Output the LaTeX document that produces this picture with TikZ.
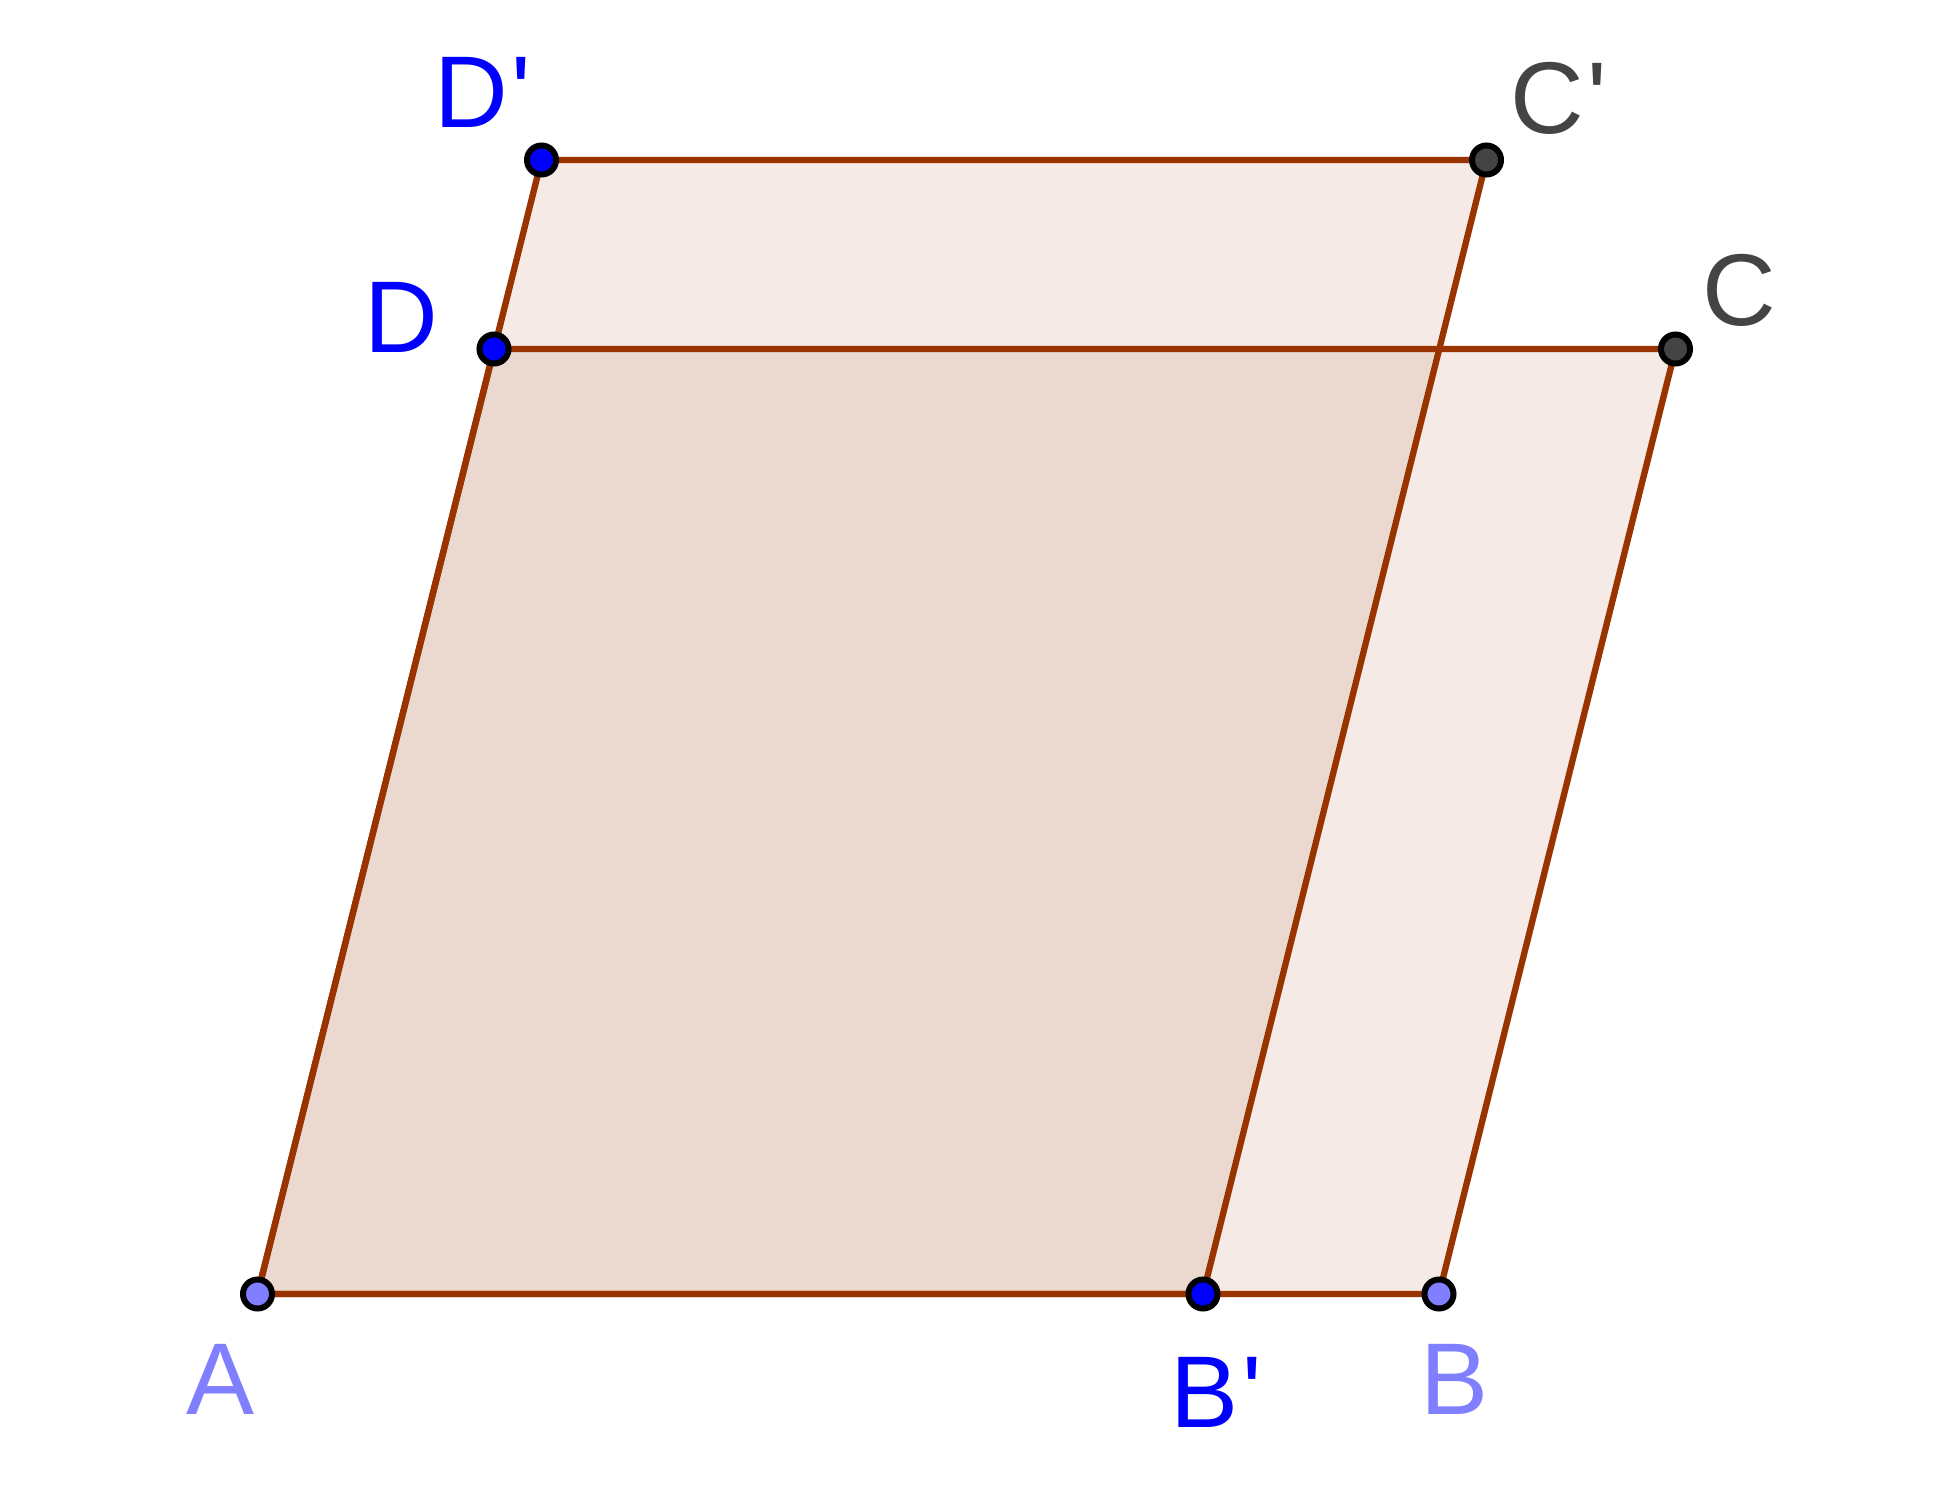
\documentclass[tikz,border=0pt]{standalone}
\usepackage{fontspec}
\setmainfont{Liberation Sans}
\definecolor{ggbrown}{HTML}{993300}
\definecolor{ptlight}{HTML}{7F7FFF}
\definecolor{ptblue}{HTML}{0000FF}
\definecolor{ptgray}{HTML}{444444}
\tikzset{
  side/.style={draw=ggbrown, line width=1.8pt, fill=ggbrown, fill opacity=0.1, line join=round},
  pt/.style={circle, draw=black, line width=1.7pt, inner sep=0pt, minimum size=0.29cm},
  lbl/.style={anchor=base west, inner sep=0pt, font=\fontsize{29}{35}\selectfont}
}
\begin{document}
\begin{tikzpicture}[x=0.01cm, y=-0.01cm]
	\useasboundingbox (0,0) rectangle (1939,1491);
	\coordinate (A) at (257.5,1294);
	\coordinate (Bp) at (1203,1294);
	\coordinate (B) at (1439,1294);
	\coordinate (C) at (1675.5,349);
	\coordinate (D) at (494,349);
	\coordinate (Dp) at (541.5,160);
	\coordinate (Cp) at (1486.5,160);
	% the two parallelograms
	\draw[side] (A)--(B)--(C)--(D)--cycle;
	\draw[side] (A)--(Bp)--(Cp)--(Dp)--cycle;
	% points
	\node[pt, fill=ptlight] (nA) at (A) {};
	\node[pt, fill=ptlight] (nB) at (B) {};
	\node[pt, fill=ptblue] (nBp) at (Bp) {};
	\node[pt, fill=ptblue] (nD) at (D) {};
	\node[pt, fill=ptblue] (nDp) at (Dp) {};
	\node[pt, fill=ptgray] (nC) at (C) {};
	\node[pt, fill=ptgray] (nCp) at (Cp) {};
	% labels
	\node[lbl, text=ptlight] (lA) at (186,1414) {A};
	\node[lbl, text=ptlight] (lB) at (1420,1414) {B};
	\node[lbl, text=ptblue] (lBp) at (1170,1427) {B\kern1pt\textquotesingle};
	\node[lbl, text=ptblue] (lD) at (364,352) {D};
	\node[lbl, text=ptblue] (lDp) at (434,128) {D\kern1pt\textquotesingle};
	\node[lbl, text=ptgray] (lC) at (1702,326) {C};
	\node[lbl, text=ptgray] (lCp) at (1510,134) {C\kern1pt\textquotesingle};
\end{tikzpicture}
\end{document}
